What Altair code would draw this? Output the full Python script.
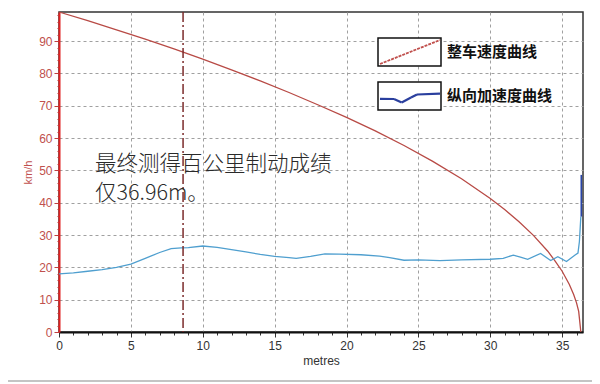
import altair as alt
import pandas as pd

# Vehicle speed curve (km/h) vs distance (metres)
speed_x = [0, 2, 4, 6, 8, 10, 12, 14, 16, 18, 20, 22, 24, 26, 28, 30, 31, 32, 33, 34, 34.5, 35, 35.5, 35.8, 36, 36.15, 36.3]
speed_v = [99, 96.3, 93.5, 90.6, 87.6, 84.4, 81.1, 77.7, 74.1, 70.3, 66.4, 62.2, 57.7, 52.8, 47.4, 41.3, 37.9, 34.1, 29.9, 25.0, 22.0, 18.8, 14.7, 11.6, 9.0, 6.4, 0]

# Longitudinal deceleration curve (plotted on the same axis)
acc_x = [0, 1, 2, 3, 4, 5, 6, 7, 7.8, 8.5, 9, 10, 11, 12, 13, 14, 15, 16, 16.5, 17.5, 18.5, 19.5, 21, 22.3, 23, 24, 25, 26.5, 28, 30, 30.9, 31.6, 32.1, 32.6, 33.5, 34.2, 34.7, 35.3, 35.9, 36.1, 36.2, 36.3]
acc_v = [18, 18.3, 18.8, 19.3, 20.0, 21.0, 22.8, 24.6, 25.8, 26.0, 26.1, 26.6, 26.2, 25.5, 24.8, 24.0, 23.4, 23.0, 22.8, 23.4, 24.2, 24.1, 23.9, 23.5, 23.0, 22.2, 22.3, 22.1, 22.3, 22.5, 22.8, 23.8, 23.2, 22.5, 24.3, 22.1, 23.3, 21.8, 23.8, 24.4, 28, 35.7]

# Final dark-blue spike
spike_x = [36.33, 36.33]
spike_v = [35.7, 48.6]

marker_x = [8.63]

x_ticks = list(range(0, 37))
y_ticks = list(range(0, 99, 2))

legend_labels = ["整车速度曲线", "纵向加速度曲线"]
note_lines = ["最终测得百公里制动成绩", "仅36.96m。"]

W, H = 524, 320

speed_df = pd.DataFrame({"x": speed_x, "v": speed_v})
acc_df = pd.DataFrame({"x": acc_x, "v": acc_v})
spike_df = pd.DataFrame({"x": spike_x, "v": spike_v})
marker_df = pd.DataFrame({"x": marker_x})
one = pd.DataFrame({"a": [0]})

xscale = alt.Scale(domain=[0, 36.45], nice=False, zero=False)
yscale = alt.Scale(domain=[0, 99], nice=False)

xaxis = alt.Axis(
    values=x_ticks, tickCount=len(x_ticks), title="metres",
    labelExpr="datum.value % 5 === 0 ? datum.label : ''",
    labelOverlap=False, labelFlush=False,
    grid=True, gridColor="#a0a0a0", gridDash=[3, 3], gridWidth=1,
    gridOpacity={"condition": {"test": "datum.value % 5 === 0 && datum.value > 0", "value": 1}, "value": 0},
    tickSize={"condition": {"test": "datum.value % 5 === 0", "value": 5}, "value": 3},
    tickColor="#333333",
    domainColor="#111111", domainWidth=2,
    labelColor="#333333", labelFontSize=12, labelFont="Liberation Sans", labelPadding=3,
    titleColor="#333333", titleFontSize=12, titleFont="Liberation Sans", titleFontWeight="normal",
    titlePadding=4,
)
yaxis = alt.Axis(
    values=y_ticks, tickCount=len(y_ticks), title="km/h",
    labelExpr="datum.value % 10 === 0 ? datum.label : ''",
    labelOverlap=False, labelFlush=False,
    grid=True, gridColor="#a0a0a0", gridDash=[3, 3], gridWidth=1,
    gridOpacity={"condition": {"test": "datum.value % 10 === 0 && datum.value > 0", "value": 1}, "value": 0},
    tickSize={"condition": {"test": "datum.value % 10 === 0", "value": 5}, "value": 2},
    tickColor="#c04040",
    domainColor="#e02020", domainWidth=2,
    labelColor="#c0504d", labelFontSize=12, labelFont="Liberation Sans", labelPadding=2,
    titleColor="#c0504d", titleFontSize=11, titleFont="Liberation Sans", titleFontWeight="normal",
    titlePadding=5,
)

speed = alt.Chart(speed_df).mark_line(color="#b84a45", strokeWidth=1.3).encode(
    x=alt.X("x:Q", scale=xscale, axis=xaxis),
    y=alt.Y("v:Q", scale=yscale, axis=yaxis),
)
acc = alt.Chart(acc_df).mark_line(color="#4f9fcf", strokeWidth=1.3).encode(
    x=alt.X("x:Q", scale=xscale), y=alt.Y("v:Q", scale=yscale))
spike = alt.Chart(spike_df).mark_line(color="#2a45a8", strokeWidth=1.6).encode(
    x=alt.X("x:Q", scale=xscale), y=alt.Y("v:Q", scale=yscale))
marker = alt.Chart(marker_df).mark_rule(color="#7b2b2b", strokeWidth=1.5, strokeDash=[10, 3, 2, 3]).encode(
    x=alt.X("x:Q", scale=xscale))

# legend decoration
def box(y0):
    return alt.Chart(one).mark_rect(fill="white", stroke="#111111", strokeWidth=1.5).encode(
        x=alt.value(319), x2=alt.value(382), y=alt.value(y0), y2=alt.value(y0 + 28))

leg_red = alt.Chart(one).mark_rule(color="#c0504d", strokeWidth=1.8, strokeDash=[3, 1]).encode(
    x=alt.value(321), x2=alt.value(381), y=alt.value(52), y2=alt.value(28))

blue_pts = [(321, 86.8), (335, 87.0), (342.7, 90.5), (352, 85.5), (358, 82.5), (381, 81.7)]
leg_blue = [
    alt.Chart(one).mark_rule(color="#2a3f9e", strokeWidth=2.2).encode(
        x=alt.value(a[0]), x2=alt.value(b[0]), y=alt.value(a[1]), y2=alt.value(b[1]))
    for a, b in zip(blue_pts[:-1], blue_pts[1:])
]

leg_text = [
    alt.Chart(one).mark_text(text=legend_labels[i], align="left", baseline="middle",
                             font="Noto Sans CJK SC", fontSize=15, fontWeight="bold",
                             color="#111111").encode(x=alt.value(388), y=alt.value(40 + 44 * i))
    for i in range(2)
]

note = alt.Chart(one).mark_text(text=note_lines, align="left", baseline="alphabetic",
                                font="Noto Sans CJK SC", fontSize=21.5, fontWeight=300,
                                lineHeight=28.5, color="#2a2a2a").encode(
    x=alt.value(36), y=alt.value(159))

bottom_line = alt.Chart(one).mark_rule(color="#c4c4c4", strokeWidth=2).encode(
    x=alt.value(-51), x2=alt.value(533), y=alt.value(369))

chart = alt.layer(
    speed, acc, spike, marker, box(26), box(70), leg_red, *leg_blue, *leg_text, note, bottom_line
).properties(
    width=W, height=H, autosize=alt.AutoSizeParams(type="none"),
    padding={"left": 51, "top": 4, "right": 9, "bottom": 52},
    background="white",
).configure_view(stroke="#333333", strokeWidth=1.5)

chart.save("out.html", embed_options={"renderer": "svg", "actions": False})
